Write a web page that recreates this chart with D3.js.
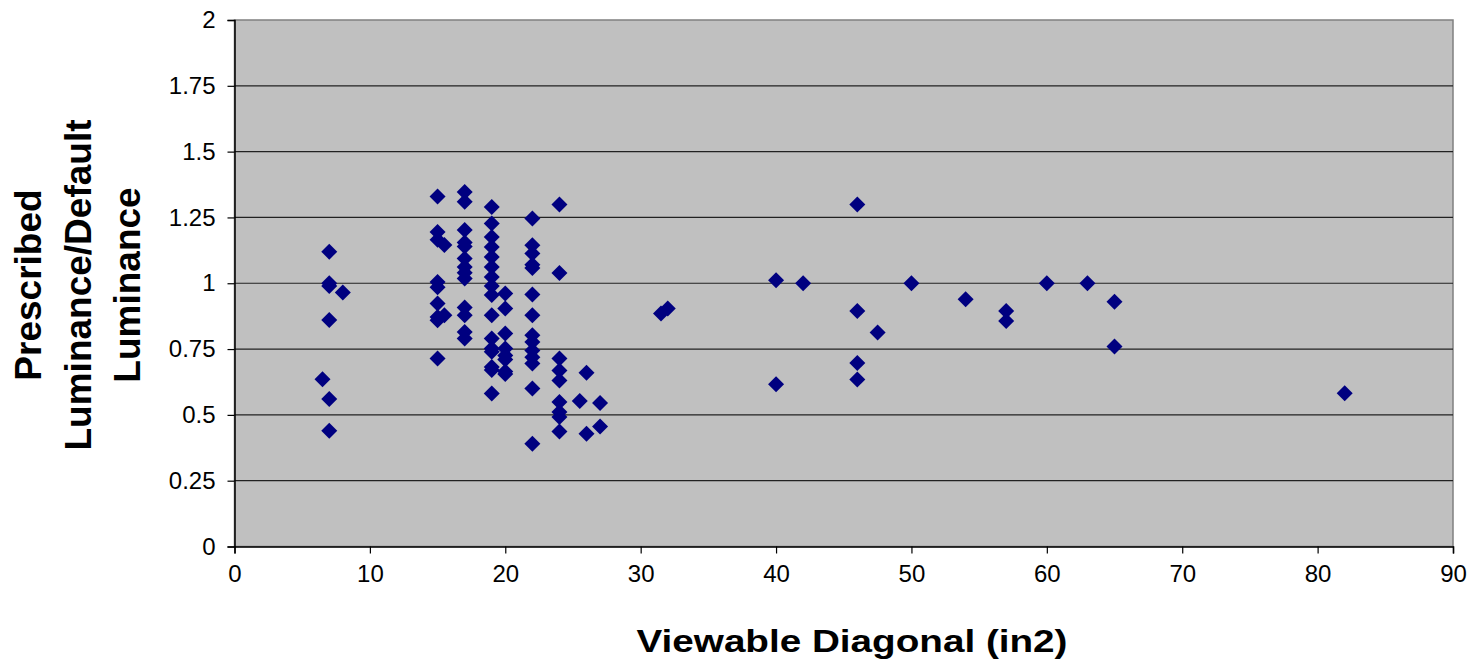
<!DOCTYPE html>
<html>
<head>
<meta charset="utf-8">
<script src="https://cdn.jsdelivr.net/npm/d3@7"></script>
<style>
  body { margin: 0; background: #ffffff; }
  text { font-family: "Liberation Sans", Arial, sans-serif; fill: #000; }
</style>
</head>
<body>
<script>
// data: one entry per diamond
var diagonals = [
  6.5,
  7, 7, 7, 7, 7, 7,
  8,
  15, 15, 15, 15, 15, 15, 15, 15, 15,
  15.5, 15.5,
  17, 17, 17, 17, 17, 17, 17, 17, 17, 17, 17, 17, 17,
  19, 19, 19, 19, 19, 19, 19, 19, 19, 19, 19, 19, 19, 19, 19, 19,
  20, 20, 20, 20, 20, 20, 20, 20,
  22, 22, 22, 22, 22, 22, 22, 22, 22, 22, 22, 22, 22, 22,
  24, 24, 24, 24, 24, 24, 24, 24, 24,
  25.5, 26, 26, 27, 27,
  31.5, 32,
  40, 40, 42,
  46, 46, 46, 46, 47.5,
  50, 54, 57, 57, 60, 63, 65, 65,
  82
];
var ratios = [
  0.635,
  1.12, 1.0, 0.99, 0.86, 0.56, 0.44,
  0.965,
  1.33, 1.195, 1.165, 1.005, 0.985, 0.923, 0.872, 0.859, 0.714,
  1.145, 0.878,
  1.347, 1.31, 1.202, 1.155, 1.14, 1.094, 1.062, 1.04, 1.018, 0.908, 0.878, 0.815, 0.79,
  1.29, 1.227, 1.176, 1.138, 1.1, 1.062, 1.024, 0.99, 0.955, 0.878, 0.79, 0.752, 0.74, 0.682, 0.67, 0.581,
  0.961, 0.904, 0.809, 0.752, 0.726, 0.71, 0.665, 0.655,
  1.246, 1.144, 1.113, 1.07, 1.058, 0.957, 0.878, 0.802, 0.777, 0.745, 0.719, 0.695, 0.6, 0.39,
  1.299, 1.039, 0.714, 0.669, 0.631, 0.549, 0.511, 0.492, 0.437,
  0.553, 0.66, 0.428, 0.545, 0.456,
  0.885, 0.904,
  1.011, 0.616, 1.0,
  1.299, 0.895, 0.697, 0.634, 0.813,
  1.0, 0.939, 0.895, 0.857, 1.0, 1.0, 0.93, 0.76,
  0.582
];
var xTicks = [0, 10, 20, 30, 40, 50, 60, 70, 80, 90];
var yTicks = [0, 0.25, 0.5, 0.75, 1, 1.25, 1.5, 1.75, 2];
var yTitleLines = ["Prescribed", "Luminance/Default", "Luminance"];
var xTitle = "Viewable Diagonal (in2)";

window.onload = function(){

  //svg size and where the grey plot box sits
  var w = 1475, h = 667;
  var left = 234.5, top = 20, right = 1453, bottom = 546.5;

  var svg = d3.select("body")
      .append("svg")
      .attr("width", w)
      .attr("height", h)
      .attr("class", "container");

  var x = d3.scaleLinear().domain([0, 90]).range([left, right]);
  var y = d3.scaleLinear().domain([0, 2]).range([bottom, top]);

  //grey plot area
  svg.append("rect")
      .attr("class", "plotArea")
      .attr("x", left)
      .attr("y", top)
      .attr("width", right - left)
      .attr("height", bottom - top)
      .style("fill", "#c0c0c0")
      .style("stroke", "#808080")
      .style("stroke-width", 1.5);

  //horizontal gridlines
  svg.append("g")
      .attr("class", "grid")
      .selectAll("line")
      .data(yTicks.filter(function(d){ return d > 0 && d < 2; }))
      .enter()
      .append("line")
      .attr("x1", left)
      .attr("x2", right)
      .attr("y1", function(d){ return y(d); })
      .attr("y2", function(d){ return y(d); })
      .style("stroke", "#222")
      .style("stroke-width", 1.2);

  //axes
  var xAxis = svg.append("g")
      .attr("class", "xAxis")
      .attr("transform", "translate(0," + bottom + ")")
      .call(d3.axisBottom(x).tickValues(xTicks).tickSize(7).tickPadding(11)
        .tickFormat(d3.format("d")));

  var yAxis = svg.append("g")
      .attr("class", "yAxis")
      .attr("transform", "translate(" + left + ",0)")
      .call(d3.axisLeft(y).tickValues(yTicks).tickSize(7).tickPadding(12)
        .tickFormat(function(d){ return String(d); }));

  svg.selectAll(".xAxis path, .yAxis path")
      .style("stroke", "#000")
      .style("stroke-width", 1.5);
  svg.selectAll(".xAxis line, .yAxis line")
      .style("stroke", "#000")
      .style("stroke-width", 1.2);
  svg.selectAll(".xAxis text, .yAxis text")
      .style("font-size", "24px")
      .style("font-family", "Liberation Sans, Arial, sans-serif");

  //navy diamonds
  var diamond = d3.symbol().type(d3.symbolSquare).size(128);
  svg.append("g")
      .attr("class", "points")
      .selectAll("path")
      .data(diagonals.map(function(d, i){ return [d, ratios[i]]; }))
      .enter()
      .append("path")
      .attr("d", diamond)
      .attr("transform", function(d){
        return "translate(" + x(d[0]) + "," + y(d[1]) + ") rotate(45)";
      })
      .style("fill", "#000080");

  //x axis title
  svg.append("text")
      .attr("class", "xTitle")
      .attr("x", 852)
      .attr("y", 652)
      .attr("text-anchor", "middle")
      .attr("textLength", 431)
      .attr("lengthAdjust", "spacingAndGlyphs")
      .style("font-size", "31px")
      .style("font-weight", "bold")
      .text(xTitle);

  //y axis title, three rotated lines
  var yTitle = svg.append("text")
      .attr("class", "yTitle")
      .attr("transform", "translate(41,285) rotate(-90)")
      .attr("text-anchor", "middle")
      .style("font-size", "37px")
      .style("font-weight", "bold");

  yTitle.selectAll("tspan")
      .data(yTitleLines)
      .enter()
      .append("tspan")
      .attr("x", 0)
      .attr("dy", function(d, i){ return i === 0 ? 0 : 49.5; })
      .text(function(d){ return d; });
};
</script>
</body>
</html>
